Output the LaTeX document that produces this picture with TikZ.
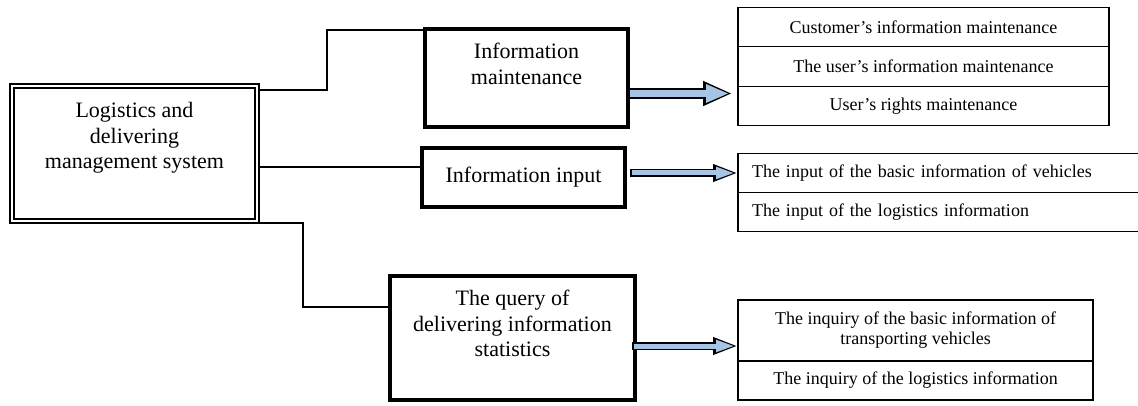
\documentclass[tikz,border=0pt]{standalone}
\usepackage{fontspec}
\setmainfont{Liberation Serif}
\usetikzlibrary{arrows.meta,positioning}
\definecolor{arrowblue}{RGB}{166,196,228}
\newcommand{\boxsize}{\fontsize{11}{12.75}\selectfont}
\newcommand{\listsize}{\fontsize{9}{10}\selectfont}

\begin{document}
\begin{tikzpicture}[x=0.5pt,y=-0.5pt,node distance=0pt,
    link/.style={draw=black,line width=0.9pt},
    bigarrow/.style={draw=arrowblue,line width=3.5pt,shorten >=1.5pt,shorten <=0.8pt,
      -{Triangle[length=11.5pt,width=8.5pt]},
      preaction={draw=black,line width=5.5pt,shorten >=0pt,shorten <=0pt,
      -{Triangle[length=14.5pt,width=11.5pt]}}},
    smallarrow/.style={draw=arrowblue,line width=2.5pt,shorten >=1.5pt,shorten <=0.8pt,
      -{Triangle[length=9.5pt,width=5.5pt]},
      preaction={draw=black,line width=4.25pt,shorten >=0pt,shorten <=0pt,
      -{Triangle[length=12.5pt,width=8pt]}}}]
  \useasboundingbox (0,0) rectangle (1138,406);
  \clip (0,0) rectangle (1138,406);
  \begin{scope}[every node/.style={draw,line width=2pt,outer sep=0pt,font=\boxsize}]
    \node (lms) [line width=1.4pt,minimum width=124.5pt,minimum height=69.5pt] at (134.5,153.5) {};
    \node (im) [minimum width=101.5pt,minimum height=49pt] at (526.5,78) {};
    \node (ii) [minimum width=101.5pt,minimum height=29.5pt] at (523.5,177.5) {Information input};
    \node (qs) [minimum width=122.5pt,minimum height=62pt] at (512.5,338) {};
  \end{scope}
  \draw[line width=0.8pt] ([shift={(2pt,-2pt)}]lms.north west) rectangle ([shift={(-2pt,2pt)}]lms.south east);
  \begin{scope}[every node/.style={align=center,inner sep=0pt,font=\boxsize}]
    \node (lmstext) [below=9pt of lms.north] {Logistics and\\delivering\\management system};
    \node (imtext) [below=7pt of im.north] {Information\\maintenance};
    \node (qstext) [below=7pt of qs.north] {The query of\\delivering information\\statistics};
  \end{scope}
  \begin{scope}[every node/.style={draw,line width=0.7pt,outer sep=0pt,font=\listsize}]
    \node (cm1) [minimum width=185.5pt,minimum height=19.75pt] at (923.5,27) {Customer's information maintenance};
    \node (cm2) [minimum width=185.5pt,minimum height=19.75pt,below=of cm1] {The user's information maintenance};
    \node (cm3) [minimum width=185.5pt,minimum height=19.75pt,below=of cm2] {User's rights maintenance};
    \node (ib1) [text width=189.5pt,inner xsep=7pt,align=left,minimum height=19.5pt] at (941.5,173) {The input of the basic information of vehicles};
    \node (ib2) [text width=189.5pt,inner xsep=7pt,align=left,minimum height=19.5pt,below=of ib1] {The input of the logistics information};
    \node (qq1) [minimum width=177.5pt,minimum height=30.5pt,align=center] at (915.5,330.5) {The inquiry of the basic information of\\transporting vehicles};
    \node (qq2) [minimum width=177.5pt,minimum height=19.5pt,below=of qq1] {The inquiry of the logistics information};
  \end{scope}
  \draw[link] ([yshift=-3pt]lms.north east) -- ++(34pt,0) |- ([yshift=-0.5pt]im.north west);
  \draw[link] ([yshift=-6.75pt]lms.east) -- ([yshift=-6.75pt]lms.east -| ii.west);
  \draw[link] ([xshift=-21pt]lms.south east) -- ++(43pt,0) |- ([yshift=15.5pt]qs.west);
  \draw[bigarrow] ([yshift=-7.75pt]im.east) -- ([yshift=-7.75pt,xshift=-3pt]im.east -| cm3.west);
  \draw[smallarrow] ([xshift=2.5pt]ii.east |- ib1.west) -- (ib1.west);
  \draw[smallarrow] ([xshift=-1.5pt,yshift=-4pt]qs.east) -- ([yshift=-4pt]qs.east -| qq1.west);
\end{tikzpicture}
\end{document}
